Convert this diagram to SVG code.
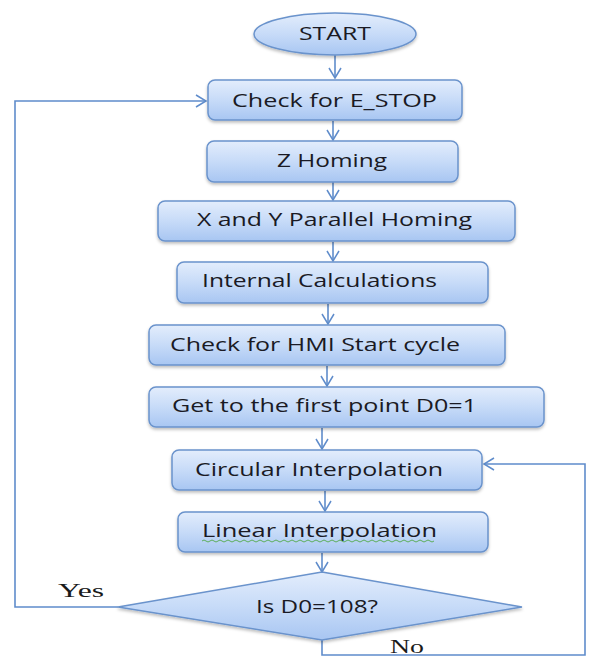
<svg xmlns="http://www.w3.org/2000/svg" width="589" height="658" viewBox="0 0 589 658">
<style>
.box{fill:url(#g);stroke:#6a93cc;stroke-width:1.5;filter:url(#sh)}
.t{font-family:"Open Sans","Liberation Sans",sans-serif;font-size:18px;fill:#1a1a24}
.s{font-family:"Liberation Serif",serif;font-size:19px;fill:#1a1a1a}
.c{fill:none;stroke:#5f8ccb;stroke-width:1.6}
</style>
<defs>
<linearGradient id="g" x1="0" y1="0" x2="0" y2="1">
<stop offset="0" stop-color="#e3edfc"/>
<stop offset="0.5" stop-color="#c7dbf8"/>
<stop offset="1" stop-color="#a8c6f2"/>
</linearGradient>
<filter id="sh" x="-10%" y="-20%" width="120%" height="150%">
<feDropShadow dx="0" dy="2" stdDeviation="1.5" flood-color="#000" flood-opacity="0.25"/>
</filter>
<marker id="a" markerUnits="userSpaceOnUse" markerWidth="14" markerHeight="16" refX="11" refY="7" orient="auto">
<path d="M1,1 L11,7 L1,13" fill="none" stroke="#5f8ccb" stroke-width="1.5"/>
</marker>
</defs>
<g id="connectors">
<line class="c" x1="335" y1="55" x2="335" y2="78" marker-end="url(#a)"/>
<line class="c" x1="333" y1="121" x2="333" y2="140" marker-end="url(#a)"/>
<line class="c" x1="333" y1="182" x2="333" y2="200" marker-end="url(#a)"/>
<line class="c" x1="333" y1="242" x2="333" y2="261" marker-end="url(#a)"/>
<line class="c" x1="328" y1="304" x2="328" y2="324" marker-end="url(#a)"/>
<line class="c" x1="327" y1="366" x2="327" y2="386" marker-end="url(#a)"/>
<line class="c" x1="322" y1="428" x2="322" y2="449" marker-end="url(#a)"/>
<line class="c" x1="325" y1="491" x2="325" y2="511" marker-end="url(#a)"/>
<line class="c" x1="322" y1="553" x2="322" y2="572" marker-end="url(#a)"/>
<polyline class="c" points="118,607 15,607 15,101 206,101" marker-end="url(#a)"/>
<polyline class="c" points="322,640 322,655 585,655 585,464 484,464" marker-end="url(#a)"/>
</g>
<g id="start">
<ellipse class="box" cx="335" cy="34" rx="81" ry="21"/>
<text class="t" x="335" y="40" text-anchor="middle" textLength="72" lengthAdjust="spacingAndGlyphs">START</text>
</g>
<g id="estop">
<rect class="box" x="208" y="80" width="254" height="40" rx="7"/>
<text class="t" x="232" y="107" textLength="205" lengthAdjust="spacingAndGlyphs">Check for E_STOP</text>
</g>
<g id="zhoming">
<rect class="box" x="207" y="141" width="251" height="41" rx="7"/>
<text class="t" x="277" y="167" textLength="110" lengthAdjust="spacingAndGlyphs">Z Homing</text>
</g>
<g id="xyhoming">
<rect class="box" x="158" y="201" width="357" height="40" rx="7"/>
<text class="t" x="197" y="226" textLength="275" lengthAdjust="spacingAndGlyphs">X and Y Parallel Homing</text>
</g>
<g id="internal">
<rect class="box" x="177" y="262" width="311" height="41" rx="7"/>
<text class="t" x="202" y="287" textLength="235" lengthAdjust="spacingAndGlyphs">Internal Calculations</text>
</g>
<g id="hmi">
<rect class="box" x="149" y="325" width="356" height="40" rx="7"/>
<text class="t" x="170" y="351" textLength="290" lengthAdjust="spacingAndGlyphs">Check for HMI Start cycle</text>
</g>
<g id="firstpoint">
<rect class="box" x="149" y="387" width="395" height="40" rx="7"/>
<text class="t" x="172" y="412" textLength="305" lengthAdjust="spacingAndGlyphs">Get to the first point D0=1</text>
</g>
<g id="circular">
<rect class="box" x="172" y="450" width="310" height="40" rx="7"/>
<text class="t" x="195" y="476" textLength="248" lengthAdjust="spacingAndGlyphs">Circular Interpolation</text>
</g>
<g id="linear">
<rect class="box" x="178" y="512" width="310" height="40" rx="7"/>
<text class="t" x="202" y="537" textLength="235" lengthAdjust="spacingAndGlyphs">Linear Interpolation</text>
<path d="M202,541 q2,-2 4,0 t4,0 t4,0 t4,0 t4,0 t4,0 t4,0 t4,0 t4,0 t4,0 t4,0 t4,0 t4,0 t4,0 t4,0 t4,0 t4,0 t4,0 t4,0 t4,0 t4,0 t4,0 t4,0 t4,0 t4,0 t4,0 t4,0 t4,0 t4,0 t4,0 t4,0 t4,0 t4,0 t4,0 t4,0 t4,0 t4,0 t4,0 t4,0 t4,0 t4,0 t4,0 t4,0 t4,0 t4,0 t4,0 t4,0 t4,0 t4,0 t4,0 t4,0 t4,0 t4,0 t4,0 t4,0 t4,0 t4,0 t4,0" fill="none" stroke="#5cae5c" stroke-width="1"/>
</g>
<g id="decision">
<polygon class="box" points="322,572 522,607 322,640 118,607"/>
<text class="t" x="256" y="613" textLength="122" lengthAdjust="spacingAndGlyphs">Is D0=108?</text>
</g>
<g id="labels">
<text class="s" x="58" y="597" textLength="46" lengthAdjust="spacingAndGlyphs">Yes</text>
<text class="s" x="390" y="653" textLength="34" lengthAdjust="spacingAndGlyphs">No</text>
</g>
</svg>
